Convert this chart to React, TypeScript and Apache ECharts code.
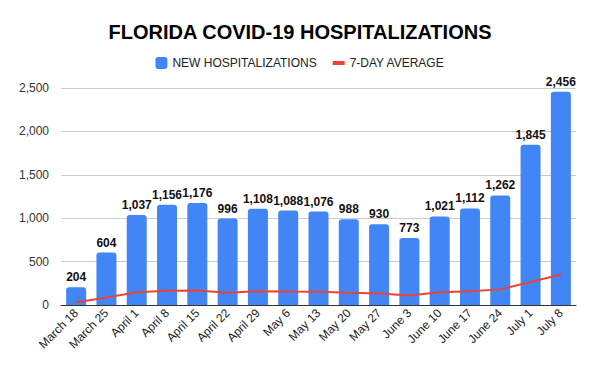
import React, { useEffect, useRef } from "react";
import * as echarts from "echarts";

const categories = ["March 18", "March 25", "April 1", "April 8", "April 15", "April 22", "April 29", "May 6", "May 13", "May 20", "May 27", "June 3", "June 10", "June 17", "June 24", "July 1", "July 8"];
const newHospitalizations = [204, 604, 1037, 1156, 1176, 996, 1108, 1088, 1076, 988, 930, 773, 1021, 1112, 1262, 1845, 2456];
const sevenDayAverage = [29, 86, 148, 165, 168, 142, 158, 155, 154, 141, 133, 110, 146, 159, 180, 264, 351];

export default function App() {
  const ref = useRef<HTMLDivElement>(null);
  useEffect(() => {
    document.body.style.margin = "0";
    const chart = echarts.init(ref.current!, null, { renderer: "svg" });
    chart.setOption({
      animation: false,
      backgroundColor: "#ffffff",
      title: {
        text: "FLORIDA COVID-19 HOSPITALIZATIONS",
        left: "center",
        top: 17,
        textStyle: { fontFamily: "Liberation Sans, Arial", fontSize: 20, fontWeight: "bold", color: "#000" },
      },
      legend: {
        top: 52,
        left: "center",
        itemGap: 16,
        itemWidth: 12,
        itemHeight: 12,
        textStyle: { fontFamily: "Liberation Sans, Arial", fontSize: 12, color: "#222" },
        data: [
          { name: "NEW HOSPITALIZATIONS", icon: "roundRect" },
          { name: "7-DAY AVERAGE", icon: "path://M0,0 L12,0 L12,4 L0,4 Z", itemStyle: { color: "#ea4335" } },
        ],
      },
      grid: { left: 61, right: 24, top: 88, bottom: 66 },
      xAxis: {
        type: "category",
        data: categories,
        axisTick: { show: false },
        axisLine: { lineStyle: { color: "#333", width: 1 } },
        axisLabel: { rotate: 45, interval: 0, fontFamily: "Liberation Sans, Arial", fontSize: 12, color: "#222", margin: 6 },
      },
      yAxis: {
        type: "value",
        min: 0,
        max: 2500,
        interval: 500,
        axisLabel: {
          fontFamily: "Liberation Sans, Arial",
          fontSize: 12,
          color: "#333",
          margin: 12,
          formatter: (v: number) => v.toLocaleString("en-US"),
        },
        splitLine: { lineStyle: { color: "#cccccc" } },
      },
      series: [
        {
          name: "NEW HOSPITALIZATIONS",
          type: "bar",
          data: newHospitalizations,
          barWidth: "66%",
          itemStyle: { color: "#4285f4", borderRadius: [3, 3, 0, 0] },
          label: {
            show: true,
            position: "top",
            distance: 4,
            fontFamily: "Liberation Sans, Arial",
            fontSize: 12,
            fontWeight: "bold",
            color: "#111",
            formatter: (p: any) => p.value.toLocaleString("en-US"),
          },
        },
        {
          name: "7-DAY AVERAGE",
          type: "line",
          data: sevenDayAverage,
          symbol: "none",
          lineStyle: { color: "#ea4335", width: 2 },
          itemStyle: { color: "#ea4335" },
        },
      ],
    });
    return () => chart.dispose();
  }, []);
  return <div ref={ref} style={{ width: 600, height: 371 }} />;
}
